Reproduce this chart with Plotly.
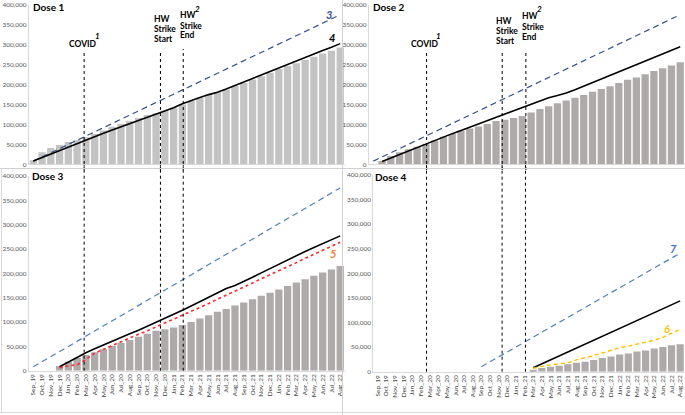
import plotly.graph_objects as go

W, H = 685, 415

months = ["Sep_19", "Oct_19", "Nov_19", "Dec_19", "Jan_20", "Feb_20", "Mar_20", "Apr_20",
          "May_20", "Jun_20", "Jul_20", "Aug_20", "Sep_20", "Oct_20", "Nov_20", "Dec_20",
          "Jan_21", "Feb_21", "Mar_21", "Apr_21", "May_21", "Jun_21", "Jul_21", "Aug_21",
          "Sep_21", "Oct_21", "Nov_21", "Dec_21", "Jan_22", "Feb_22", "Mar_22", "Apr_22",
          "May_22", "Jun_22", "Jul_22", "Aug_22"]

# dose 1
dose1_bars = [10000, 30000, 41000, 48500, 56000, 61000, 68000, 76000, 85000, 94000, 102000, 109000,
              116000, 124000, 128000, 134000, 142000, 150000, 159000, 168000, 175000, 181000, 188000, 197000,
              205000, 213000, 221000, 230000, 239000, 247000, 254000, 262000, 270000, 278000, 285000, 293000]
dose1_line = [8000, 17000, 26000, 35000, 44000, 53000, 62000, 70000, 78000, 86000, 94000, 102000,
              110000, 118000, 126000, 133000, 142000, 152000, 161000, 168000, 175000, 181000, 189000, 198000,
              207000, 216000, 224000, 233000, 242000, 251000, 260000, 269000, 277000, 286000, 294000, 303000]
# blue dashed projection (doses 1-3)
proj_line = [8000, 18500, 29000, 39500, 50000, 60500, 71000, 81500, 92000, 102500, 113000, 123500,
             134000, 144500, 155000, 165500, 176000, 186500, 197000, 207500, 218000, 228500, 239000, 249500,
             260000, 270500, 281000, 291500, 302000, 312500, 323000, 333500, 344000, 354500, 365000, 375500]

# dose 2
dose2_bars = [None, 8000, 21000, 30000, 38000, 44000, 51000, 60000, 69000, 76000, 84000, 90000,
              95000, 101000, 109000, 112000, 116000, 121000, 130000, 139000, 146000, 153000, 160000, 167000,
              174000, 182000, 189000, 196000, 204000, 212000, 218000, 226000, 234000, 241000, 248000, 256000]
dose2_line = [None, 7000, 16000, 25000, 34000, 43000, 52000, 60000, 68000, 77000, 85000, 93000,
              101000, 109000, 117000, 125000, 134000, 143000, 151000, 159000, 167000, 173000, 179000, 187000,
              196000, 205000, 214000, 223000, 232000, 241000, 250000, 259000, 268000, 277000, 286000, 295000]

# dose 3
dose3_bars = [None, None, None, 9600, 18500, 26700, 32000, 38000, 44000, 51000, 57000, 63000,
              70000, 76000, 82000, 85000, 89000, 94000, 100000, 107000, 114000, 121000, 127000, 134000,
              140000, 147000, 154000, 160000, 167000, 174000, 181000, 188000, 195000, 202000, 208000, 215000]
dose3_line = [None, None, None, 8000, 18000, 28000, 37000, 45000, 53000, 61000, 69000, 76000,
              83000, 91000, 99000, 107000, 115000, 124000, 133000, 142000, 151000, 160000, 169000, 175000,
              183000, 192000, 201000, 210000, 219000, 228000, 237000, 245000, 253000, 261000, 269000, 277000]
dose3_red = [None, None, None, 6000, 10000, 12000, 23000, 36000, 44000, 52000, 59000, 67000,
             75000, 82000, 90000, 98000, 105000, 113000, 121000, 130000, 138000, 147000, 155000, 163000,
             172000, 180000, 189000, 197000, 205000, 214000, 222000, 231000, 239000, 247000, 256000, 264000]

# dose 4
dose4_bars = [None] * 18 + [4000, 7500, 10000, 12000, 15000, 18000, 20000, 24000, 28000, 31000, 35000,
                            37000, 41000, 43000, 47000, 50000, 54000, 56000]
dose4_line = [None] * 18 + [8000, 16000, 24000, 32000, 40000, 48000, 56000, 64000, 72000, 80000, 88000,
                            96000, 104000, 112000, 120000, 128000, 136000, 144000]
dose4_yellow = [None] * 18 + [7000, 11000, 14000, 16000, 18000, 24000, 28000, 33000, 38000, 44000, 49000,
                              52000, 56000, 60000, 64000, 70000, 78000, 86000]
dose4_proj = [None] * 12 + [10000, 20000, 30000, 40000, 50000, 60500, 70500, 80500, 90500, 100500, 110500,
                            120500, 130500, 140500, 150500, 160500, 170500, 180500, 190500, 200500,
                            211000, 221000, 231000, 241000]

yticks = [0, 50000, 100000, 150000, 200000, 250000, 300000, 350000, 400000]

FONT = "Lato"
BAR_LIGHT = "#c3c3c3"
BAR_DARK = "#aeaaaa"
NAVY = "#34508a"
BLUE = "#4f81bd"


def px_x(p):
    return p / W


def px_y(p):
    return 1 - p / H


# panel geometry in pixels: (x_left, x_right, y_top(400k), y_bottom(0))
panels = {
    1: (28.9, 344.6, 5, 164.3),
    2: (368.9, 684.6, 5, 164.3),
    3: (28.9, 344.6, 176, 370.7),
    4: (373.3, 684.5, 175, 371.7),
}

fig = go.Figure()


def add_bar(n, vals, color):
    fig.add_trace(go.Bar(x=months, y=vals, marker_color=color, marker_line_width=0,
                         xaxis=f"x{n}", yaxis=f"y{n}", showlegend=False))


def add_line(n, vals, color, width, dash="solid"):
    fig.add_trace(go.Scatter(x=months, y=vals, mode="lines", line=dict(color=color, width=width, dash=dash),
                             xaxis=f"x{n}", yaxis=f"y{n}", showlegend=False, connectgaps=False))


add_bar(1, dose1_bars, BAR_LIGHT)
add_line(1, proj_line, NAVY, 1.2, "6px,4px")
add_line(1, dose1_line, "black", 1.6)

add_bar(2, dose2_bars, BAR_DARK)
add_line(2, proj_line, NAVY, 1.2, "6px,4px")
add_line(2, dose2_line, "black", 1.6)

add_bar(3, dose3_bars, BAR_DARK)
add_line(3, proj_line, BLUE, 1.2, "6px,4px")
add_line(3, dose3_line, "black", 1.6)
add_line(3, dose3_red, "#ff2a2a", 1.6, "dot")

add_bar(4, dose4_bars, BAR_DARK)
add_line(4, dose4_proj, BLUE, 1.2, "6px,4px")
add_line(4, dose4_line, "black", 1.6)
add_line(4, dose4_yellow, "#ffc000", 1.4, "4px,3px")

layout = dict(width=W, height=H, margin=dict(l=0, r=0, t=0, b=0, pad=0, autoexpand=False), autosize=False,
              paper_bgcolor="white", plot_bgcolor="white", bargap=0.17,
              font=dict(family=FONT, color="#595959"))
for n, (xl, xr, yt, yb) in panels.items():
    layout[f"xaxis{n}"] = dict(domain=[px_x(xl), px_x(xr)], anchor=f"y{n}", type="category",
                               range=[-0.5, 35.5], showgrid=False, zeroline=False, automargin=False,
                               showticklabels=n >= 3, tickangle=-90, ticks="",
                               tickfont=dict(size=6.5, color="#404040", family=FONT),
                               showline=True, linecolor="#d9d9d9", linewidth=1)
    layout[f"yaxis{n}"] = dict(domain=[px_y(yb), px_y(yt)], anchor=f"x{n}", range=[0, 400000],
                               tickvals=yticks, tickformat=",", showgrid=False, zeroline=False,
                               automargin=False,
                               showline=True, linecolor="#d9d9d9", linewidth=1, ticks="",
                               tickfont=dict(size=6.5, color="#595959", family=FONT))
fig.update_layout(**layout)

# event markers (x in category index units)
events_a = [5.8, 14.5, 17.1]      # dose 1 / dose 3
events_b = [6.08, 14.7, 17.4]     # dose 2
events_c = [5.66, 14.4, 17.1]     # dose 4
tops_top = [52, 50, 49]

shapes = []
for ex, top in zip(events_a, tops_top):
    shapes.append(dict(type="line", xref="x1", yref="paper", x0=ex, x1=ex, y0=px_y(170), y1=px_y(top),
                       line=dict(color="black", width=1, dash="dot")))
    shapes.append(dict(type="line", xref="x3", yref="paper", x0=ex, x1=ex, y0=px_y(370.7), y1=px_y(165),
                       line=dict(color="black", width=1, dash="dot")))
for ex, top in zip(events_b, [53, 52, 50]):
    shapes.append(dict(type="line", xref="x2", yref="paper", x0=ex, x1=ex, y0=px_y(170), y1=px_y(top),
                       line=dict(color="black", width=1, dash="dot")))
for ex in events_c:
    shapes.append(dict(type="line", xref="x4", yref="paper", x0=ex, x1=ex, y0=px_y(371.7), y1=px_y(165),
                       line=dict(color="black", width=1, dash="dot")))

# panel borders
shapes.append(dict(type="line", xref="paper", yref="paper", x0=0, x1=1, y0=px_y(168.5), y1=px_y(168.5),
                   line=dict(color="#d0d0d0", width=1)))
shapes.append(dict(type="line", xref="paper", yref="paper", x0=px_x(342.5), x1=px_x(342.5), y0=0, y1=1,
                   line=dict(color="#d0d0d0", width=1)))
shapes.append(dict(type="line", xref="paper", yref="paper", x0=0, x1=1, y0=px_y(412.5), y1=px_y(412.5),
                   line=dict(color="#d9d9d9", width=1)))
shapes.append(dict(type="line", xref="paper", yref="paper", x0=px_x(1.5), x1=px_x(1.5), y0=px_y(412.5),
                   y1=px_y(168.5), line=dict(color="#d9d9d9", width=1)))
fig.update_layout(shapes=shapes)

ann = []


def text(x, y, s, size=9, color="black", xanchor="left", bold=True, italic=False):
    if bold:
        s = f"<b>{s}</b>"
    if italic:
        s = f"<i>{s}</i>"
    ann.append(dict(xref="paper", yref="paper", x=px_x(x), y=px_y(y), text=s, showarrow=False,
                    xanchor=xanchor, yanchor="middle", font=dict(size=size, color=color, family=FONT)))


# panel titles
text(31, 7, "Dose 1", size=10)
text(371, 7, "Dose 2", size=10)
text(30, 176, "Dose 3", size=10)
text(373, 177, "Dose 4", size=10)

# event labels
for dx, covid_x, one_x, start_x, start_ys, end_x, end_ys, two_x in [
    (0, 83, 97, 152, (18.7, 29.3, 39.5), 178, (15.3, 25.5, 35.5), 197),
    (340, 85, 99, 154, (20.7, 31, 41.3), 180, (16, 26.7, 37.3), 199),
]:
    text(dx + covid_x, 44, "COVID", size=8.5, xanchor="center")
    text(dx + one_x, 36, "1", size=8, italic=True, xanchor="center")
    for s, yy in zip(["HW", "Strike", "Start"], start_ys):
        text(dx + start_x, yy, s, size=8.5)
    for s, yy in zip(["HW", "Strike", "End"], end_ys):
        text(dx + end_x, yy, s, size=8.5)
    text(dx + two_x, 9, "2", size=8, italic=True, xanchor="center")

# series labels
text(329, 14, "3", size=11, color=NAVY, italic=True, xanchor="center")
text(332, 38, "4", size=11, color="black", italic=True, xanchor="center")
text(333, 253, "5", size=11, color="#ed7d31", italic=True, xanchor="center")
text(667, 328, "6", size=11, color="#ffc000", italic=True, xanchor="center")
text(673, 248, "7", size=11, color="#4472c4", italic=True, xanchor="center")

fig.update_layout(annotations=ann)

fig.write_html("out.html", config={"displayModeBar": False},
               post_script="document.body.style.margin='0px';")
